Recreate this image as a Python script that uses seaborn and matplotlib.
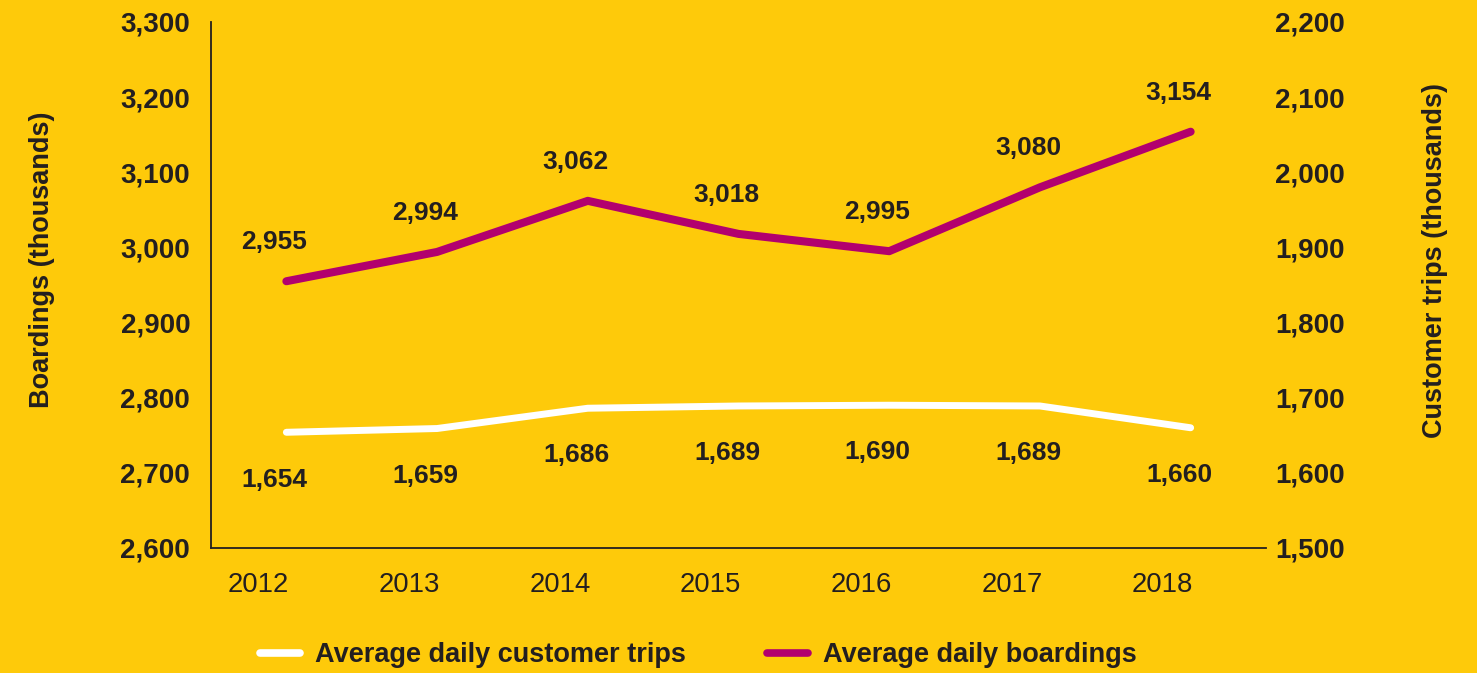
import matplotlib
matplotlib.use("Agg")
import matplotlib.pyplot as plt
import matplotlib.transforms as mtransforms
from matplotlib.lines import Line2D
import seaborn as sns
import pandas as pd

years = ["2012", "2013", "2014", "2015", "2016", "2017", "2018"]
boardings = [2955, 2994, 3062, 3018, 2995, 3080, 3154]
customer_trips = [1654, 1659, 1686, 1689, 1690, 1689, 1660]
left_ticks = [2600, 2700, 2800, 2900, 3000, 3100, 3200, 3300]
right_ticks = [1500, 1600, 1700, 1800, 1900, 2000, 2100, 2200]

BG = "#FECA0A"
MAGENTA = "#B2006E"
INK = "#231F20"

sns.set_theme(style="white")
plt.rcParams["font.family"] = ["Liberation Sans", "DejaVu Sans"]

df = pd.DataFrame({"x": range(len(years)), "boardings": boardings, "trips": customer_trips})

fig = plt.figure(figsize=(14.77, 6.73), dpi=100, facecolor=BG)
ax = fig.add_axes([211 / 1477, 1 - 548 / 673, (1266 - 211) / 1477, (548 - 22) / 673])
ax.set_facecolor(BG)
ax2 = ax.twinx()

sns.lineplot(data=df, x="x", y="boardings", ax=ax, color=MAGENTA, linewidth=5.8,
             solid_capstyle="round", legend=False)
sns.lineplot(data=df, x="x", y="trips", ax=ax2, color="white", linewidth=5.0,
             solid_capstyle="round", legend=False)

ax.set_xlim(-0.5, len(years) - 0.5)
ax.set_ylim(left_ticks[0], left_ticks[-1])
ax2.set_ylim(right_ticks[0], right_ticks[-1])

ax.set_xticks(range(len(years)))
ax.set_xticklabels(years, fontsize=19.8, color=INK)
ax.set_yticks(left_ticks)
ax.set_yticklabels([f"{v:,}" for v in left_ticks], fontsize=20, fontweight="bold", color=INK)
ax2.set_yticks(right_ticks)
ax2.set_yticklabels([f"{v:,}" for v in right_ticks], fontsize=20, fontweight="bold", color=INK)

ax.tick_params(axis="x", length=0, pad=17.5)
ax.tick_params(axis="y", length=0, pad=15)
ax2.tick_params(axis="y", length=0, pad=6.5)

# year labels sit a little to the left of their data points
shift = mtransforms.ScaledTranslation(-28 / 100, 0, fig.dpi_scale_trans)
for lbl in ax.get_xticklabels():
    lbl.set_transform(lbl.get_transform() + shift)

for a in (ax, ax2):
    a.set_xlabel("")
    a.spines["top"].set_visible(False)
    a.spines["right"].set_visible(False)
ax2.spines["left"].set_visible(False)
ax2.spines["bottom"].set_visible(False)
ax.spines["left"].set_color(INK)
ax.spines["bottom"].set_color(INK)
ax.spines["left"].set_linewidth(1.3)
ax.spines["bottom"].set_linewidth(1.3)

ax.set_ylabel("")
ax2.set_ylabel("")
fig.text(42 / 1477, 1 - 260 / 673, "Boardings (thousands)", rotation=90, ha="center",
         va="center", fontsize=19.5, fontweight="bold", color=INK)
fig.text(1435 / 1477, 1 - 260 / 673, "Customer trips (thousands)", rotation=90, ha="center",
         va="center", fontsize=19.5, fontweight="bold", color=INK)

for i, v in enumerate(boardings):
    ax.annotate(f"{v:,}", (i, v), xytext=(-8.6, 28), textcoords="offset points",
                ha="center", va="center", fontsize=19, fontweight="bold", color=INK)
for i, v in enumerate(customer_trips):
    ax2.annotate(f"{v:,}", (i, v), xytext=(-8.3, -34), textcoords="offset points",
                 ha="center", va="center", fontsize=19, fontweight="bold", color=INK)

handles = [Line2D([], [], color="white", linewidth=5.5, solid_capstyle="round"),
           Line2D([], [], color=MAGENTA, linewidth=5.5, solid_capstyle="round")]
fig.legend(handles, ["Average daily customer trips", "Average daily boardings"],
           loc="center", bbox_to_anchor=(698 / 1477, 1 - 655 / 673), ncol=2, frameon=False,
           prop={"size": 19.5, "weight": "bold"}, labelcolor=INK, handlelength=1.5,
           handletextpad=0.55, columnspacing=3.0)

fig.savefig("out.png", dpi=100, facecolor=BG)
